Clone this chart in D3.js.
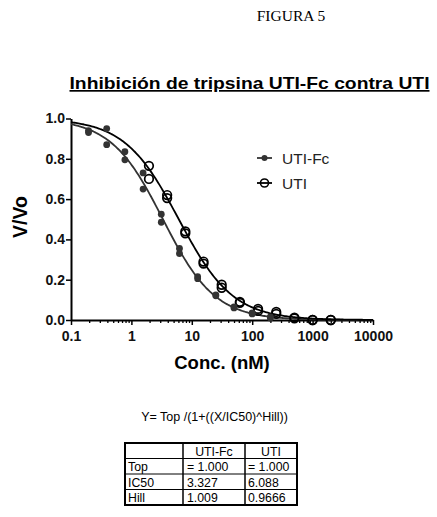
<!DOCTYPE html>
<html><head><meta charset="utf-8">
<script src="https://cdn.jsdelivr.net/npm/d3@7"></script>
<style>
html,body{margin:0;padding:0;background:#fff;}
svg{display:block;}
</style></head>
<body>
<svg id="c" width="437" height="517"></svg>
<script>
// ---- data ----
const concFc = [0.195, 0.39, 0.78, 1.5625, 3.125, 6.25, 12.5, 25, 50, 100, 200];
const fcRep1 = [0.94, 0.95, 0.835, 0.73, 0.525, 0.355, 0.215, 0.125, 0.065, 0.035, 0.015];
const fcRep2 = [0.93, 0.87, 0.795, 0.65, 0.485, 0.33, 0.205, 0.12, 0.06, 0.03, 0.01];
const concUti = [1.953, 3.906, 7.8125, 15.625, 31.25, 62.5, 125, 250, 500, 1000, 2000];
const utiRep1 = [0.765, 0.62, 0.44, 0.29, 0.175, 0.09, 0.055, 0.04, 0.012, 0.0, 0.0];
const utiRep2 = [0.70, 0.605, 0.43, 0.28, 0.16, 0.085, 0.045, 0.03, 0.008, 0.0, 0.0];
const seriesNames = ["UTI-Fc", "UTI"];
const fitTop = [1.0, 1.0];
const fitIC50 = [3.327, 6.088];
const fitHill = [1.009, 0.9666];
const xTickLabels = [0.1, 1, 10, 100, 1000, 10000];
const yTickLabels = [0, 0.2, 0.4, 0.6, 0.8, 1.0];
const tableHeader = ["", "UTI-Fc", "UTI"];
const tableRowNames = ["Top", "IC50", "Hill"];
const tableColFc = ["= 1.000", "3.327", "1.009"];
const tableColUti = ["= 1.000", "6.088", "0.9666"];

const svg = d3.select("#c");
const F = "'Liberation Sans', Arial, sans-serif";

svg.append("text").attr("x", 291).attr("y", 21).attr("text-anchor", "middle")
  .attr("font-family", "'Liberation Serif','Times New Roman',serif").attr("font-size", 15.5)
  .text("FIGURA 5");

svg.append("text").attr("x", 249.5).attr("y", 89).attr("text-anchor", "middle")
  .attr("font-family", F).attr("font-weight", "bold").attr("font-size", 17)
  .attr("textLength", 360).attr("lengthAdjust", "spacingAndGlyphs")
  .attr("text-decoration", "underline")
  .text("Inhibición de tripsina UTI-Fc contra UTI");

const x = d3.scaleLog().domain([0.1, 10000]).range([71, 373]);
const y = d3.scaleLinear().domain([0, 1]).range([320, 118.5]);

// minor ticks
const minor = [];
for (let e = -1; e < 4; e++) for (let m = 2; m <= 9; m++) minor.push(m * Math.pow(10, e));
const gMinor = svg.append("g").attr("transform", "translate(0,320)")
  .call(d3.axisBottom(x).tickValues(minor).tickSize(3).tickFormat(""));
gMinor.select(".domain").remove();
gMinor.selectAll("line").attr("stroke", "#000").attr("stroke-width", 1.3);

const gx = svg.append("g").attr("transform", "translate(0,320)")
  .call(d3.axisBottom(x).tickValues(xTickLabels).tickSize(5).tickSizeOuter(0)
    .tickFormat(d => String(d)));
gx.select(".domain").attr("stroke", "#000").attr("stroke-width", 2);
gx.selectAll(".tick line").attr("stroke", "#000").attr("stroke-width", 1.5);
gx.selectAll(".tick text").attr("font-family", F).attr("font-weight", "bold")
  .attr("font-size", 14).attr("fill", "#111").attr("dy", "0.9em");

const gy = svg.append("g").attr("transform", "translate(71,0)")
  .call(d3.axisLeft(y).tickValues(yTickLabels).tickSize(5).tickSizeOuter(0)
    .tickFormat(d3.format(".1f")));
gy.select(".domain").attr("stroke", "#000").attr("stroke-width", 2);
gy.selectAll(".tick line").attr("stroke", "#000").attr("stroke-width", 1.5);
gy.selectAll(".tick text").attr("font-family", F).attr("font-weight", "bold")
  .attr("font-size", 14).attr("fill", "#111").attr("x", -6);

svg.append("text").attr("transform", "translate(27,217) rotate(-90)")
  .attr("text-anchor", "middle").attr("font-family", F).attr("font-weight", "bold")
  .attr("font-size", 19.5).text("V/Vo");
svg.append("text").attr("x", 222).attr("y", 369).attr("text-anchor", "middle")
  .attr("font-family", F).attr("font-weight", "bold").attr("font-size", 18.5)
  .text("Conc. (nM)");

// fitted curves from table parameters
const colors = ["#333", "#000"];
const xs = d3.range(-1, 4.001, 0.02).map(e => Math.pow(10, e));
const line = d3.line().x(d => x(d[0])).y(d => y(d[1]));
[0, 1].forEach(i => {
  const pts = xs.map(c => [c, fitTop[i] / (1 + Math.pow(c / fitIC50[i], fitHill[i]))]);
  svg.append("path").attr("d", line(pts)).attr("fill", "none")
    .attr("stroke", colors[i]).attr("stroke-width", 1.8);
});

// points
const fcPts = concFc.flatMap((c, i) => [[c, fcRep1[i]], [c, fcRep2[i]]]);
const utiPts = concUti.flatMap((c, i) => [[c, utiRep1[i]], [c, utiRep2[i]]]);
svg.append("g").selectAll("circle").data(utiPts).join("circle")
  .attr("cx", d => x(d[0])).attr("cy", d => y(d[1])).attr("r", 4.3)
  .attr("fill", "none").attr("stroke", "#000").attr("stroke-width", 1.7);
svg.append("g").selectAll("circle").data(fcPts).join("circle")
  .attr("cx", d => x(d[0])).attr("cy", d => y(d[1])).attr("r", 3.4)
  .attr("fill", "#333");

// legend
const leg = svg.append("g");
[0, 1].forEach(i => {
  const ly = 158 + i * 25;
  leg.append("line").attr("x1", 257).attr("x2", 272).attr("y1", ly).attr("y2", ly)
    .attr("stroke", colors[i]).attr("stroke-width", 1.8);
  if (i === 0) leg.append("circle").attr("cx", 264.5).attr("cy", ly).attr("r", 3).attr("fill", "#333");
  else leg.append("circle").attr("cx", 264.5).attr("cy", ly).attr("r", 4).attr("fill", "none")
    .attr("stroke", "#000").attr("stroke-width", 1.6);
  leg.append("text").attr("x", 282).attr("y", ly + 5.5).attr("font-family", F)
    .attr("font-size", 15.5).attr("fill", "#222").text(seriesNames[i]);
});

// equation + table
svg.append("text").attr("x", 214.5).attr("y", 421).attr("text-anchor", "middle")
  .attr("font-family", F).attr("font-size", 12.5).text("Y= Top /(1+((X/IC50)^Hill))");

const colX = [125, 183, 245, 297];
const rowY = [443, 458.5, 474, 489.5, 505];
const tg = svg.append("g");
for (let r = 1; r < 4; r++) tg.append("line").attr("x1", 125).attr("x2", 297)
  .attr("y1", rowY[r]).attr("y2", rowY[r]).attr("stroke", "#000").attr("stroke-width", 1);
for (let c = 1; c < 3; c++) tg.append("line").attr("x1", colX[c]).attr("x2", colX[c])
  .attr("y1", 443).attr("y2", 505).attr("stroke", "#000").attr("stroke-width", 1.5);
tg.append("rect").attr("x", 125).attr("y", 443).attr("width", 172).attr("height", 62)
  .attr("fill", "none").attr("stroke", "#000").attr("stroke-width", 2);
const cellText = (tx, ty, s, anchor) => tg.append("text").attr("x", tx).attr("y", ty)
  .attr("text-anchor", anchor).attr("font-family", F).attr("font-size", 12.3).text(s);
cellText((colX[1] + colX[2]) / 2, rowY[0] + 12.5, tableHeader[1], "middle");
cellText((colX[2] + colX[3]) / 2, rowY[0] + 12.5, tableHeader[2], "middle");
tableRowNames.forEach((n, i) => {
  cellText(colX[0] + 3, rowY[i + 1] + 12.5, n, "start");
  cellText(colX[1] + 4, rowY[i + 1] + 12.5, tableColFc[i], "start");
  cellText(colX[2] + 3, rowY[i + 1] + 12.5, tableColUti[i], "start");
});
</script>
</body></html>
